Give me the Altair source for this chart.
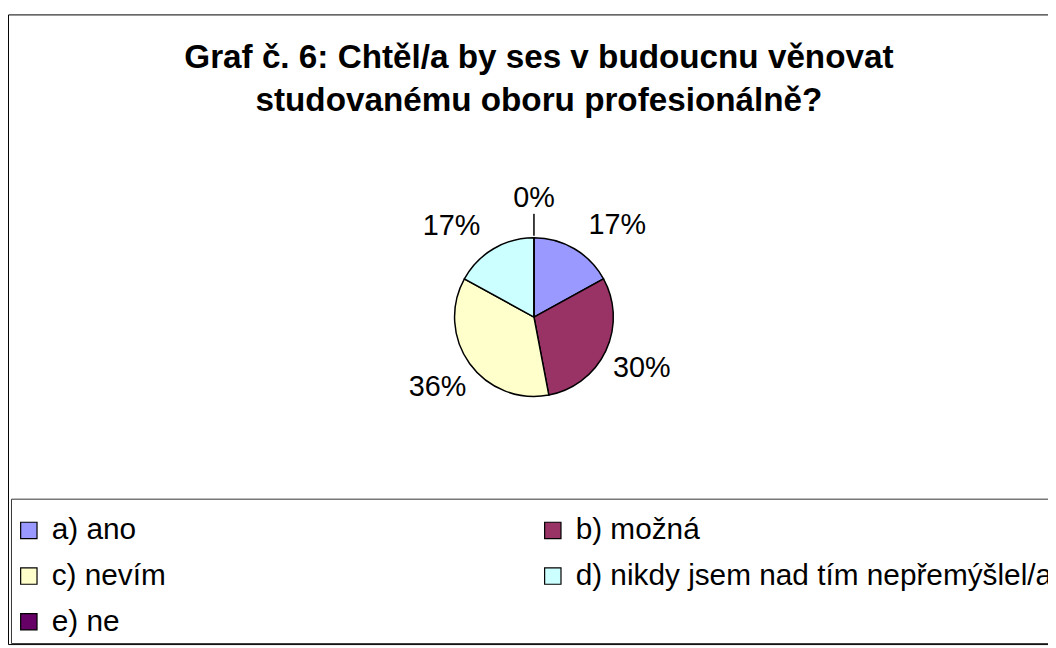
import altair as alt
import pandas as pd

# ---- data ----
categories = ["a) ano", "b) možná", "c) nevím", "d) nikdy jsem nad tím nepřemýšlel/a", "e) ne"]
percent = [17, 30, 36, 17, 0]
labels = [f"{p}%" for p in percent]
colors = ["#9999FF", "#993366", "#FFFFCC", "#CCFFFF", "#660066"]
title_lines = ["Graf č. 6: Chtěl/a by ses v budoucnu věnovat",
               "studovanému oboru profesionálně?"]
# legend is filled row by row in the reference (a b / c d / e)
legend_order = [categories[0], categories[2], categories[4], categories[1], categories[3]]

FONT = "Liberation Sans"

df = pd.DataFrame({"cat": categories, "value": percent, "label": labels})
one = pd.DataFrame({"f": [0]})

CX, CY, R = 530, 305, 80

theta = alt.Theta("value:Q", stack=True)
order = alt.Order("cat:N", sort="ascending")

color = alt.Color(
    "cat:N",
    scale=alt.Scale(domain=categories, range=colors),
    legend=alt.Legend(
        title=None, orient="none", legendX=6, legendY=505, columns=2,
        values=legend_order,
        symbolType="square", symbolSize=272, symbolStrokeColor="black",
        symbolStrokeWidth=1.2, symbolOpacity=1,
        labelFont=FONT, labelFontSize=30, labelColor="black",
        labelOffset=8, rowPadding=16, columnPadding=374, labelLimit=700,
        padding=0,
    ),
)

outer = alt.Chart(one).mark_rect(fill="white", stroke="black", strokeWidth=1).encode(
    x=alt.value(0.5), x2=alt.value(1070), y=alt.value(0.5), y2=alt.value(635)
)
legend_box = alt.Chart(one).mark_rect(fill="white", stroke="#333333", strokeWidth=1).encode(
    x=alt.value(3.5), x2=alt.value(1070), y=alt.value(488.5), y2=alt.value(634)
)

title = alt.Chart(one).mark_text(
    font=FONT, fontSize=33.5, fontWeight="bold", align="center",
    baseline="alphabetic", lineHeight=43, color="black",
).encode(x=alt.value(535), y=alt.value(54), text=alt.value(title_lines))

pie = alt.Chart(df).mark_arc(outerRadius=R, stroke="black", strokeWidth=1.5).encode(
    theta=theta, color=color, order=order, x=alt.value(CX), y=alt.value(CY)
)

leader = alt.Chart(df).mark_arc(
    outerRadius=104, innerRadius=82, fillOpacity=0, stroke="black", strokeWidth=1
).encode(
    theta=theta, order=order, x=alt.value(CX), y=alt.value(CY),
    strokeOpacity=alt.condition("substring(datum.cat,0,1) == 'e'", alt.value(1), alt.value(0)),
)

def label_layer(keys, align, radius):
    test = " || ".join(f"substring(datum.cat,0,1) == '{k}'" for k in keys)
    return alt.Chart(df).mark_text(
        font=FONT, fontSize=29, align=align, baseline="middle", color="black", radius=radius
    ).encode(
        theta=theta, order=order, x=alt.value(CX), y=alt.value(CY),
        text=alt.condition(test, alt.Text("label:N"), alt.value("")),
    )

right_lbl = label_layer(["a"], "left", 108)
left_lbl = label_layer(["d"], "right", 106)
mid_lbl = label_layer(["b", "c", "e"], "center", 120)

chart = alt.layer(
    outer, legend_box, title, pie, leader, right_lbl, left_lbl, mid_lbl
).properties(
    width=1048, height=636,
    autosize=alt.AutoSizeParams(type="none"),
    padding={"left": 0, "top": 4, "right": 0, "bottom": 0},
    background="white",
).configure_view(stroke=None)

chart.save("out.html", embed_options={"renderer": "svg", "actions": False})
